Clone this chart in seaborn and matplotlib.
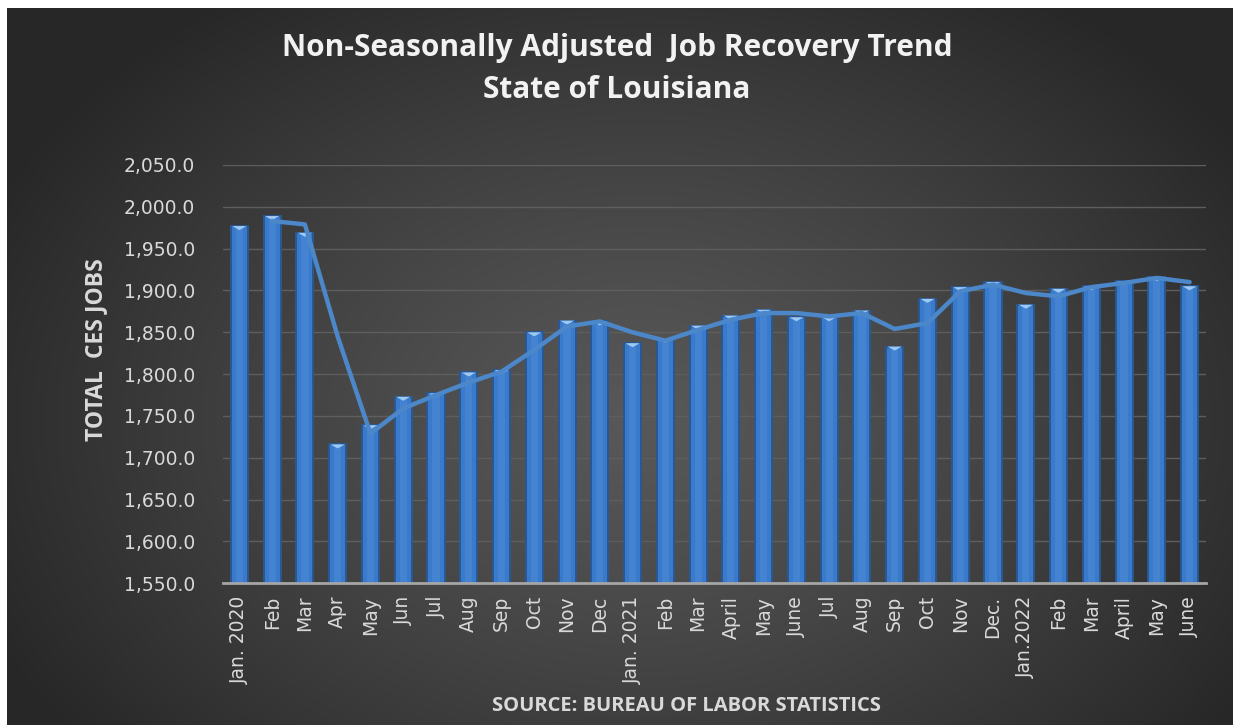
import numpy as np
import pandas as pd
import matplotlib
matplotlib.use("Agg")
import matplotlib.pyplot as plt
from matplotlib.path import Path
import seaborn as sns

months = ["Jan. 2020", "Feb", "Mar", "Apr", "May", "Jun", "Jul", "Aug", "Sep", "Oct",
          "Nov", "Dec", "Jan. 2021", "Feb", "Mar", "April", "May", "June", "Jul", "Aug",
          "Sep", "Oct", "Nov", "Dec.", "Jan.2022", "Feb", "Mar", "April", "May", "June"]
jobs = [1977, 1989, 1969, 1716, 1739, 1773, 1777, 1802, 1805, 1850,
        1864, 1863, 1837, 1842, 1858, 1870, 1877, 1868, 1868, 1876,
        1833, 1890, 1904, 1910, 1883, 1902, 1905, 1911, 1916, 1905]
trend = [np.nan, 1983, 1979, 1845, 1729, 1759, 1775, 1790, 1803, 1829,
         1857, 1863, 1850, 1840, 1853, 1865, 1873, 1873, 1869, 1873,
         1854, 1861, 1899, 1907, 1897, 1893, 1904, 1909, 1915, 1910]
yticks = [1550, 1600, 1650, 1700, 1750, 1800, 1850, 1900, 1950, 2000, 2050]

df = pd.DataFrame({"pos": np.arange(len(months)), "jobs": jobs, "trend": trend})

sns.set_theme(style="white")
plt.rcParams["font.family"] = ["Open Sans", "DejaVu Sans"]

W, H = 1233, 725
fig = plt.figure(figsize=(W / 100, H / 100), dpi=100)

# background panel with radial gradient
bg = fig.add_axes([0, 0, 1, 1], zorder=-10)
yy, xx = np.mgrid[0:H, 0:W]
r = np.sqrt(((xx - 640) / 720.0) ** 2 + ((yy - 420) / 520.0) ** 2)
r = np.clip(r, 0, 1)
v = (0x58 + (0x27 - 0x58) * r ** 1.2) / 255.0
img = np.dstack([v, v, v])
mask = (xx < 7) | (yy < 8)
img[mask] = 1.0
bg.imshow(img, aspect="auto", extent=(0, W, H, 0), interpolation="bilinear")
bg.set_xlim(0, W)
bg.set_ylim(H, 0)
bg.axis("off")

ax = fig.add_axes([223 / W, 1 - 583.3 / H, (1206 - 223) / W, (583.3 - 165) / H])
ax.patch.set_alpha(0)

sns.barplot(data=df, x="pos", y="jobs", color="#3a7acb", width=0.52,
            edgecolor="#2a5893", linewidth=1.4, saturation=1, ax=ax, zorder=3)
# lighter centre highlight
sns.barplot(data=df, x="pos", y="jobs", color="#4a8ad6", width=0.22,
            linewidth=0, saturation=1, ax=ax, zorder=3.5, alpha=0.6)

cap = Path([(-1, 0), (1, 0), (0, -0.55), (-1, 0)],
           [Path.MOVETO, Path.LINETO, Path.LINETO, Path.CLOSEPOLY])
ax.scatter(df["pos"], df["jobs"], marker=cap, s=110, color="#9dc9f3",
           edgecolors="none", zorder=4)

sns.lineplot(data=df, x="pos", y="trend", color="#4c87c9", linewidth=3.2,
             ax=ax, zorder=5)

ax.set_ylim(1550, 2050)
ax.set_xlim(-0.5, len(months) - 0.5)
ax.set_yticks(yticks)
ax.set_yticklabels([f"{t:,.1f}" for t in yticks], family="DejaVu Sans")
ax.set_xticks(df["pos"])
ax.set_xticklabels(months, rotation=90, family="DejaVu Sans")
ax.tick_params(axis="y", length=0, pad=20, labelsize=13.5, labelcolor="#d9d9d9")
ax.tick_params(axis="x", length=0, pad=9, labelsize=13.5, labelcolor="#d9d9d9")
ax.grid(axis="y", color="#5e5e5e", linewidth=1.0, zorder=0)
ax.grid(axis="x", visible=False)
for s in ["left", "right", "top"]:
    ax.spines[s].set_visible(False)
ax.spines["bottom"].set_color("#a6a6a6")
ax.spines["bottom"].set_linewidth(2)
ax.spines["bottom"].set_zorder(6)
ax.set_xlabel("")
ax.set_ylabel("")

fig.text(96 / W, 1 - 350 / H, "TOTAL  CES JOBS", rotation=90, ha="center", va="center",
         fontsize=16.5, fontweight="bold", color="#d9d9d9")
fig.text(686 / W, 1 - 706 / H, "SOURCE: BUREAU OF LABOR STATISTICS", ha="center",
         va="center", fontsize=14.5, fontweight="bold", color="#d9d9d9")
fig.text(617 / W, 1 - 48 / H, "Non-Seasonally Adjusted  Job Recovery Trend",
         ha="center", va="center", fontsize=21.5, fontweight="bold", color="#f2f2f2")
fig.text(617 / W, 1 - 90 / H, "State of Louisiana", ha="center", va="center",
         fontsize=21.5, fontweight="bold", color="#f2f2f2")

fig.savefig("out.png", dpi=100)
